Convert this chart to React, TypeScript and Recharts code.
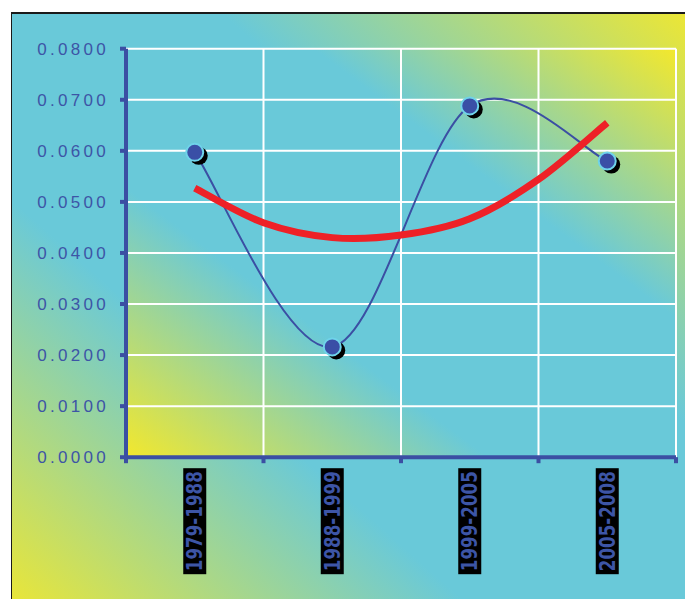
import { LineChart, Line, XAxis, YAxis, CartesianGrid } from 'recharts'

const PERIODS = ['1979-1988', '1988-1999', '1999-2005', '2005-2008']
const RATES = [0.0597, 0.0216, 0.0688, 0.058]
// trendline at half-band steps
const TREND_AT = [0.5, 1, 1.5, 2, 2.5, 3, 3.5]
const TREND = [0.0527, 0.0459, 0.043, 0.0435, 0.0467, 0.0544, 0.0655]
const Y_TICKS = [0, 0.01, 0.02, 0.03, 0.04, 0.05, 0.06, 0.07, 0.08]
const X_TICKS = [0, 1, 2, 3, 4]

const W = 685
const H = 599
const MARGIN = { top: 48.7, right: 9, bottom: 10, left: 0 }
const Y_W = 126
const X_H = H - 457.2 - MARGIN.bottom
const BAND = (W - MARGIN.left - Y_W - MARGIN.right) / PERIODS.length

const YELLOW = '#f3e82c'
const CYAN = '#69c9d9'
const AXIS = '#3b4fa3'
const AXIS_TEXT = '#3d55a6'
const DOT = '#3a4fa6'
const RED = '#ee2127'

const rateRows = PERIODS.map((_, i) => ({ x: i + 0.5, rate: RATES[i] }))
const trendRows = TREND_AT.map((x, i) => ({ x, trend: TREND[i] }))

// Excel-style smoothed line (Catmull-Rom through the points)
function excelSmooth(ctx: any) {
  let pts: number[][] = []
  return {
    areaStart() {},
    areaEnd() {},
    lineStart() { pts = [] },
    point(x: number, y: number) { pts.push([+x, +y]) },
    lineEnd() {
      const n = pts.length
      if (!n) return
      ctx.moveTo(pts[0][0], pts[0][1])
      for (let i = 0; i < n - 1; i++) {
        const a = pts[Math.max(i - 1, 0)], b = pts[i], c = pts[i + 1], d = pts[Math.min(i + 2, n - 1)]
        ctx.bezierCurveTo(
          b[0] + (c[0] - a[0]) / 6, b[1] + (c[1] - a[1]) / 6,
          c[0] - (d[0] - b[0]) / 6, c[1] - (d[1] - b[1]) / 6,
          c[0], c[1],
        )
      }
    },
  }
}

const Marker = (props: any) => {
  const { cx, cy } = props
  if (cx == null || cy == null) return null
  return (
    <g>
      <circle cx={cx + 4} cy={cy + 3.5} r={9} fill="#000" />
      <circle cx={cx} cy={cy} r={8.5} fill={DOT} stroke="#6fd3ea" strokeWidth={2} />
    </g>
  )
}

const RateTick = (props: any) => {
  const { x, y, payload } = props
  return (
    <text x={x} y={y} dx={3} dy={6} textAnchor="end" fill={AXIS_TEXT} fontSize={17}
      fontFamily="'Liberation Sans', Arial, sans-serif" letterSpacing={3.3}>
      {Number(payload.value).toFixed(4)}
    </text>
  )
}

const PeriodTick = (props: any) => {
  const { x, y, payload } = props
  const i = Math.round(payload.value) - 1
  if (i < 0 || i >= PERIODS.length) return null
  const cx = x - BAND / 2
  return (
    <g>
      <rect x={cx - 11.5} y={y} width={23} height={106} fill="#000" />
      <text transform={`translate(${cx},${y + 3}) rotate(-90)`} x={0} y={7.4} textAnchor="end"
        fill={AXIS_TEXT} fontSize={21} fontWeight="bold" textLength={100} lengthAdjust="spacingAndGlyphs"
        fontFamily="'DejaVu Sans Condensed', 'DejaVu Sans', sans-serif">
        {PERIODS[i]}
      </text>
    </g>
  )
}

export default function App() {
  return (
    <div style={{ position: 'fixed', left: 0, top: 0, width: W, height: H, overflow: 'hidden', background: '#fff' }}>
      <svg width={0} height={0} style={{ position: 'absolute' }}>
        <defs>
          <linearGradient id="plotFill" x1="0" y1="1" x2="1" y2="0">
            <stop offset="0" stopColor={YELLOW} />
            <stop offset="0.33" stopColor={CYAN} />
            <stop offset="0.67" stopColor={CYAN} />
            <stop offset="1" stopColor={YELLOW} />
          </linearGradient>
        </defs>
      </svg>
      <div style={{
        position: 'absolute', left: 11, top: 12, width: 700, height: 620,
        borderTop: '2px solid #1a1a1a', borderLeft: '1.5px solid #1a1a1a',
        background: `linear-gradient(to top right, ${YELLOW} 0%, ${CYAN} 35%, ${CYAN} 65%, ${YELLOW} 100%)`,
      }} />
      <div style={{ position: 'absolute', left: 0, top: 0 }}>
        <LineChart width={W} height={H} margin={MARGIN}>
          <CartesianGrid stroke="#ffffff" strokeWidth={2} fill="url(#plotFill)" fillOpacity={1} />
          <XAxis type="number" dataKey="x" domain={[0, 4]} ticks={X_TICKS} interval={0} height={X_H}
            axisLine={{ stroke: AXIS, strokeWidth: 4 }} tickLine={{ stroke: AXIS, strokeWidth: 4 }}
            tickSize={6} tickMargin={5} tick={<PeriodTick />} allowDataOverflow />
          <YAxis type="number" domain={[0, 0.08]} ticks={Y_TICKS} interval={0} width={Y_W}
            axisLine={{ stroke: AXIS, strokeWidth: 4 }} tickLine={{ stroke: AXIS, strokeWidth: 4 }}
            tickSize={6} tickMargin={14} tick={<RateTick />} allowDataOverflow />
          <Line data={rateRows} dataKey="rate" type={excelSmooth as any} stroke={AXIS} strokeWidth={2}
            dot={<Marker />} activeDot={false} isAnimationActive={false} />
          <Line data={trendRows} dataKey="trend" type={excelSmooth as any} stroke={RED} strokeWidth={7}
            strokeLinecap="butt" dot={false} activeDot={false} isAnimationActive={false} />
        </LineChart>
      </div>
    </div>
  )
}
